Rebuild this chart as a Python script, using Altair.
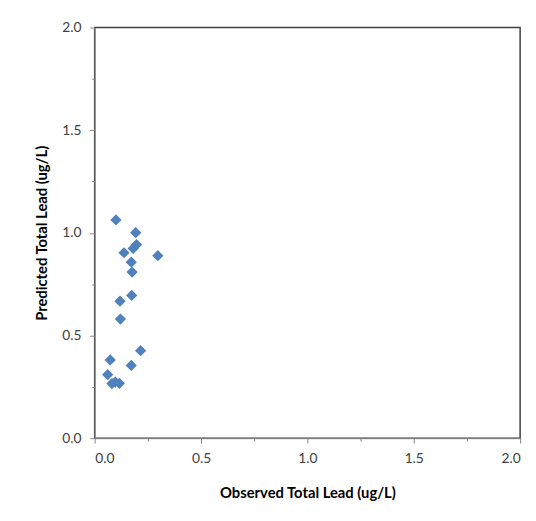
import altair as alt
import pandas as pd

observed = [0.100, 0.193, 0.197, 0.181, 0.138, 0.297, 0.172, 0.176, 0.174, 0.119,
            0.121, 0.216, 0.073, 0.172, 0.061, 0.081, 0.097, 0.116]
predicted = [1.063, 1.001, 0.943, 0.924, 0.903, 0.889, 0.857, 0.809, 0.695, 0.667,
             0.580, 0.426, 0.381, 0.354, 0.309, 0.266, 0.273, 0.267]
tick_values = [0.0, 0.25, 0.5, 0.75, 1.0, 1.25, 1.5, 1.75, 2.0]

df = pd.DataFrame({"observed": observed, "predicted": predicted})

FONT = "Lato"
major_test = "datum.value % 0.5 == 0"


def make_axis(title, title_padding):
    return alt.Axis(
        title=title,
        values=tick_values,
        labelExpr="datum.value % 0.5 == 0 ? format(datum.value, '.1f') : ''",
        labelOverlap=False,
        grid=False,
        domainColor="#868686",
        domainWidth=1,
        tickColor="#868686",
        tickSize={"condition": {"test": major_test, "value": 5}, "value": 3},
        labelFont=FONT,
        labelFontSize=14,
        labelColor="#404040",
        labelPadding=9,
        titleFont=FONT,
        titleFontSize=15,
        titleFontWeight="bold",
        titleColor="#000000",
        titlePadding=title_padding,
    )


chart = (
    alt.Chart(df)
    .mark_point(shape="diamond", filled=True, size=130, opacity=1, color="#4F81BD")
    .encode(
        x=alt.X("observed:Q", scale=alt.Scale(domain=[0, 2], nice=False),
                axis=make_axis("Observed Total Lead (ug/L)", 20)),
        y=alt.Y("predicted:Q", scale=alt.Scale(domain=[0, 2], nice=False),
                axis=make_axis("Predicted Total Lead (ug/L)", 12)),
    )
    .properties(
        width=432,
        height=417,
        autosize=alt.AutoSizeParams(type="none"),
        padding={"left": 88, "top": 16, "right": 8, "bottom": 60},
        background="white",
    )
    .configure_view(stroke="#404040", strokeWidth=1.5)
)

chart.save("out.html", embed_options={"renderer": "svg", "actions": False})
